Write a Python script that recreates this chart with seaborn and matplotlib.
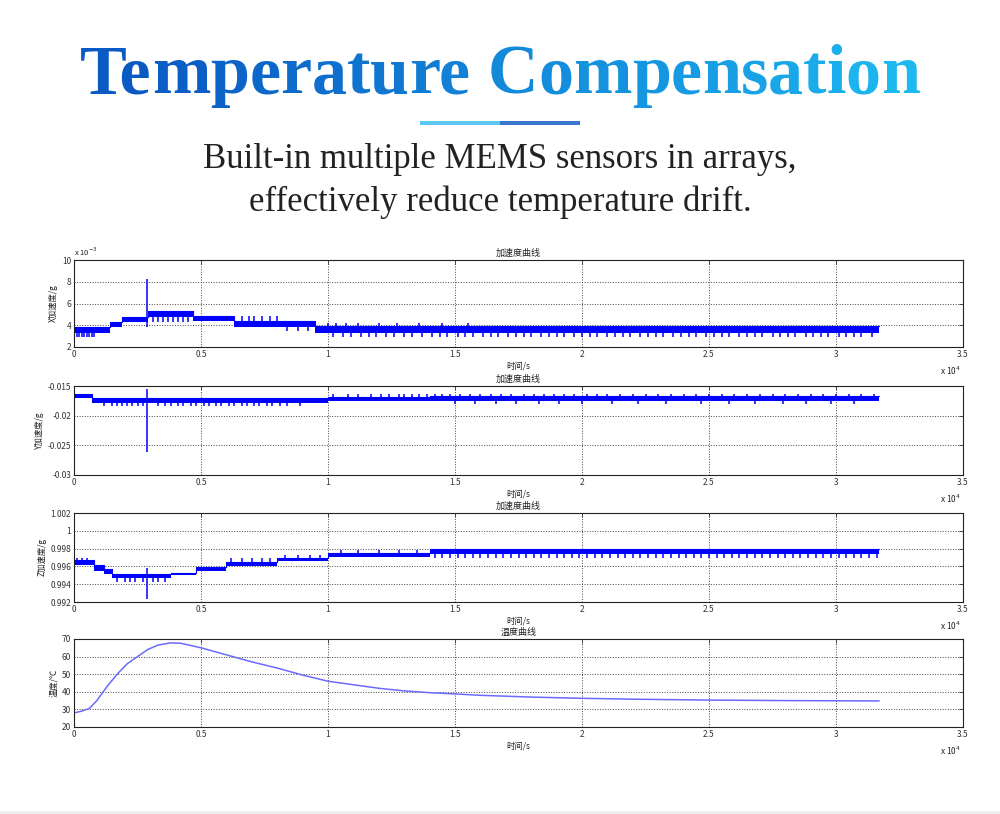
import matplotlib
matplotlib.use("Agg")
import matplotlib.pyplot as plt
from matplotlib.patches import Rectangle
from matplotlib.colors import to_rgb
import seaborn as sns
import pandas as pd

# ---- data (time in units of 1e4 s) ----
# X acceleration, units of 1e-3 g: stepped band + spike groups (times, low, high)
x_edges = [0, 0.14, 0.19, 0.29, 0.47, 0.63, 0.95, 3.17]
x_low = [3.3, 3.85, 4.3, 4.8, 4.35, 3.85, 3.3]
x_high = [3.85, 4.3, 4.75, 5.3, 4.85, 4.35, 3.9]
x_spikes = [
    ([0.287], 3.85, 8.25),
    ([0.01, 0.02, 0.03, 0.04, 0.05, 0.06, 0.07, 0.08], 2.9, 3.3),
    ([0.31, 0.33, 0.35, 0.37, 0.39, 0.41, 0.43, 0.45], 4.3, 4.8),
    ([0.66, 0.69, 0.71, 0.74, 0.77, 0.80], 4.35, 4.85),
    ([0.84, 0.88, 0.92], 3.5, 3.85),
    ([1.0, 1.03, 1.07, 1.12, 1.2, 1.27, 1.36, 1.45, 1.55], 3.9, 4.25),
    ([1.02, 1.06, 1.09, 1.13, 1.16, 1.19, 1.23, 1.26, 1.3, 1.33, 1.37, 1.41,
      1.44, 1.47, 1.51, 1.54, 1.57, 1.61, 1.64, 1.67, 1.71, 1.74, 1.77, 1.8,
      1.84, 1.87, 1.9, 1.93, 1.97, 2.0, 2.03, 2.06, 2.1, 2.13, 2.16, 2.19,
      2.23, 2.26, 2.29, 2.32, 2.36, 2.39, 2.42, 2.45, 2.49, 2.52, 2.55, 2.58,
      2.62, 2.65, 2.68, 2.71, 2.75, 2.78, 2.81, 2.84, 2.88, 2.91, 2.94, 2.97,
      3.01, 3.04, 3.07, 3.1, 3.14], 2.95, 3.3),
]

# Y acceleration, g
y_edges = [0, 0.07, 0.35, 1.0, 1.4, 3.17]
y_low = [-0.0171, -0.0179, -0.0178, -0.0176, -0.0175]
y_high = [-0.0164, -0.0171, -0.0171, -0.0169, -0.0167]
y_spikes = [
    ([0.287], -0.0262, -0.0155),
    ([0.12, 0.15, 0.17, 0.19, 0.21, 0.23, 0.25, 0.27, 0.33, 0.36, 0.38, 0.41,
      0.43, 0.46, 0.48, 0.51, 0.53, 0.56, 0.58, 0.61, 0.63, 0.66, 0.68, 0.71,
      0.73, 0.76, 0.78, 0.81, 0.84, 0.89], -0.0183, -0.0178),
    ([1.02, 1.08, 1.12, 1.17, 1.21, 1.24, 1.28, 1.3, 1.33, 1.36, 1.39, 1.42,
      1.45, 1.48, 1.52, 1.56, 1.6, 1.64, 1.68, 1.72, 1.77, 1.81, 1.85, 1.89,
      1.93, 1.97, 2.02, 2.06, 2.1, 2.15, 2.2, 2.25, 2.3, 2.35, 2.4, 2.45, 2.5,
      2.55, 2.6, 2.65, 2.7, 2.75, 2.8, 2.85, 2.9, 2.95, 3.0, 3.05, 3.1, 3.15],
     -0.0169, -0.0163),
    ([1.5, 1.58, 1.66, 1.74, 1.83, 1.91, 2.0, 2.12, 2.22, 2.33, 2.47, 2.58,
      2.68, 2.79, 2.88, 2.98, 3.07], -0.0180, -0.0175),
]

# Z acceleration, g
z_edges = [0, 0.08, 0.12, 0.15, 0.38, 0.48, 0.60, 0.80, 1.0, 1.4, 3.17]
z_low = [0.9962, 0.9955, 0.9952, 0.9947, 0.9950, 0.9955, 0.9961, 0.9966, 0.9971, 0.9974]
z_high = [0.9967, 0.9962, 0.9957, 0.9951, 0.9953, 0.9959, 0.9965, 0.9970, 0.9975, 0.9979]
z_spikes = [
    ([0.287], 0.9923, 0.9958),
    ([0.01, 0.03, 0.05], 0.9967, 0.9970),
    ([0.17, 0.2, 0.22, 0.24, 0.27, 0.31, 0.33, 0.36], 0.9943, 0.9947),
    ([0.62, 0.66, 0.7, 0.74, 0.77], 0.9965, 0.9969),
    ([0.83, 0.88, 0.93, 0.97], 0.9969, 0.9973),
    ([1.05, 1.12, 1.2, 1.28, 1.35], 0.9975, 0.9978),
    ([1.42, 1.45, 1.48, 1.51, 1.54, 1.57, 1.6, 1.63, 1.66, 1.69, 1.72, 1.75,
      1.78, 1.81, 1.84, 1.87, 1.9, 1.93, 1.96, 1.99, 2.02, 2.05, 2.08, 2.11,
      2.14, 2.17, 2.2, 2.23, 2.26, 2.29, 2.32, 2.35, 2.38, 2.41, 2.44, 2.47,
      2.5, 2.53, 2.56, 2.59, 2.62, 2.65, 2.68, 2.71, 2.74, 2.77, 2.8, 2.83,
      2.86, 2.89, 2.92, 2.95, 2.98, 3.01, 3.04, 3.07, 3.1, 3.13, 3.16],
     0.9970, 0.9974),
]

# temperature, deg C
temp_t = [0, 0.03, 0.06, 0.09, 0.13, 0.17, 0.21, 0.25, 0.29, 0.33, 0.38, 0.42,
          0.5, 0.6, 0.7, 0.8, 0.9, 1.0, 1.1, 1.2, 1.3, 1.4, 1.5, 1.6, 1.8,
          2.0, 2.2, 2.5, 2.8, 3.0, 3.17]
temp_c = [28, 29, 30.5, 35, 43, 50, 56, 60, 64, 66.5, 67.8, 67.6,
          65, 61, 57, 53.5, 49.5, 46, 44, 42, 40.5, 39.5, 38.8, 38, 37,
          36.3, 35.8, 35.3, 35, 34.9, 34.8]

x_ticks = [0, 0.5, 1, 1.5, 2, 2.5, 3, 3.5]
x_ticklabels = ["0", "0.5", "1", "1.5", "2", "2.5", "3", "3.5"]

titles = ["加速度曲线", "加速度曲线", "加速度曲线", "温度曲线"]
ylabels = ["X加速度/g", "Y加速度/g", "Z加速度/g", "温度/℃"]

BLUE = "#0000ff"

sns.set_style("white")
plt.rcParams["font.family"] = ["Noto Sans CJK SC", "DejaVu Sans"]

fig = plt.figure(figsize=(10, 8.14), dpi=100)

# ---- header ----
# title drawn in chunks so the colour can run from dark blue to cyan
title_parts = ["Te", "m", "p", "e", "r", "a", "t", "u", "r", "e", " ",
               "C", "o", "m", "p", "e", "n", "s", "a", "t", "i", "o", "n"]
fp = dict(family="Liberation Serif", weight="bold", size=50.5)
r = fig.canvas.get_renderer()


def text_width(s):
    t = fig.text(0, 0, s, **fp)
    w = t.get_window_extent(r).width
    t.remove()
    return w


title = "".join(title_parts)
total_w = text_width(title)
x_start = 500 - total_w / 2
c0, c1 = to_rgb("#0a5ac4"), to_rgb("#1cb8f0")
done = ""
for i, part in enumerate(title_parts):
    done += part
    if part == " ":
        continue
    off = text_width(done) - text_width(part)
    f = i / (len(title_parts) - 1)
    col = tuple(a + (b - a) * f for a, b in zip(c0, c1))
    fig.text((x_start + off) / 1000, 1 - 93 / 814, part, color=col,
             ha="left", va="baseline", **fp)

fig.add_artist(Rectangle((420 / 1000, 1 - 125 / 814), 80 / 1000, 4 / 814,
                         transform=fig.transFigure, color="#5cc8f4", lw=0))
fig.add_artist(Rectangle((500 / 1000, 1 - 125 / 814), 80 / 1000, 4 / 814,
                         transform=fig.transFigure, color="#3a78d0", lw=0))
fig.text(0.5, 1 - 168 / 814, "Built-in multiple MEMS sensors in arrays,",
         family="Liberation Serif", size=25, color="#222222", ha="center", va="baseline")
fig.text(0.5, 1 - 211 / 814, "effectively reduce temperature drift.",
         family="Liberation Serif", size=25, color="#222222", ha="center", va="baseline")
fig.add_artist(Rectangle((0, 0), 1, 3 / 814, transform=fig.transFigure,
                         color="#eeeeee", lw=0))

# ---- panels ----
tops = [260, 386, 513, 639]
bottoms = [347, 475, 602, 727]
axes = []
for top, bot in zip(tops, bottoms):
    ax = fig.add_axes([74 / 1000, 1 - bot / 814, 889 / 1000, (bot - top) / 814])
    axes.append(ax)

bands = [(x_edges, x_low, x_high, x_spikes),
         (y_edges, y_low, y_high, y_spikes),
         (z_edges, z_low, z_high, z_spikes)]
for ax, (edges, lo, hi, spikes) in zip(axes[:3], bands):
    df = pd.DataFrame({"t": edges, "lo": lo + [lo[-1]], "hi": hi + [hi[-1]]})
    ax.fill_between(df["t"], df["lo"], df["hi"], step="post", color=BLUE, lw=0)
    sns.lineplot(data=df, x="t", y="hi", ax=ax, color=BLUE, lw=0.8,
                 drawstyle="steps-post", estimator=None)
    for times, s_lo, s_hi in spikes:
        ax.vlines(times, s_lo, s_hi, color=BLUE, lw=1.1)

tdf = pd.DataFrame({"t": temp_t, "temp": temp_c})
sns.lineplot(data=tdf, x="t", y="temp", ax=axes[3], color="#6a6aff", lw=1.1,
             estimator=None)

ylims = [(2, 10), (-0.03, -0.015), (0.992, 1.002), (20, 70)]
yticks = [[2, 4, 6, 8, 10], [-0.03, -0.025, -0.02, -0.015],
          [0.992, 0.994, 0.996, 0.998, 1.0, 1.002], [20, 30, 40, 50, 60, 70]]
yticklabels = [["2", "4", "6", "8", "10"], ["-0.03", "-0.025", "-0.02", "-0.015"],
               ["0.992", "0.994", "0.996", "0.998", "1", "1.002"],
               ["20", "30", "40", "50", "60", "70"]]

for i, ax in enumerate(axes):
    ax.set_xlim(0, 3.5)
    ax.set_ylim(*ylims[i])
    ax.set_xticks(x_ticks)
    ax.set_xticklabels(x_ticklabels)
    ax.set_yticks(yticks[i])
    ax.set_yticklabels(yticklabels[i])
    ax.tick_params(direction="in", length=3, width=0.6, labelsize=6,
                   colors="#333333", top=True, right=True, pad=2)
    ax.grid(True, linestyle=":", color="#444444", lw=0.7)
    for s in ax.spines.values():
        s.set_color("#222222")
        s.set_linewidth(0.8)
    ax.set_title(titles[i], fontsize=6.5, pad=3, color="#222222")
    ax.set_xlabel("时间/s", fontsize=6, labelpad=2, color="#222222")
    ax.set_ylabel(ylabels[i], fontsize=6, labelpad=3, color="#222222")
    ax.text(0.998, -0.2, "x 10$^{4}$", transform=ax.transAxes, fontsize=6,
            ha="right", va="top", color="#222222")

axes[0].text(0.0, 1.02, "x 10$^{-3}$", transform=axes[0].transAxes, fontsize=5.5,
             ha="left", va="bottom", color="#222222")

fig.savefig("out.png", dpi=100)
